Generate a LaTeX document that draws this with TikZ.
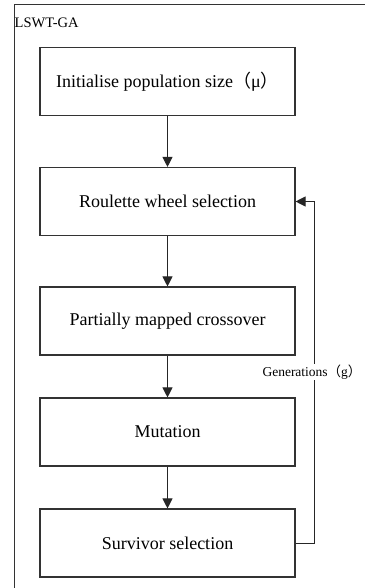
\documentclass[tikz,border=0pt]{standalone}
\usepackage{fontspec}
\setmainfont{Liberation Serif}
\newfontfamily\cjk{Noto Sans CJK SC}
\newcommand{\lpar}{{\cjk （}}
\newcommand{\rpar}{{\cjk ）}}
\usetikzlibrary{arrows.meta}
\begin{document}
\begin{tikzpicture}[x=1pt,y=-1pt,
  stepbox/.style={draw=black!80, line width=1.1pt, minimum width=255pt, minimum height=68pt, inner sep=0pt, font=\fontsize{18}{20}\selectfont},
  flow/.style={draw=black!85, line width=1pt, -{Triangle[length=10pt,width=10pt]}},
  frameline/.style={draw=black!80, line width=1pt}]
\useasboundingbox (0,0) rectangle (365,588);
\draw[frameline] (14,588) -- (14,5) -- (365,5);
\node[anchor=base west, inner sep=0pt, font=\fontsize{14.5}{16}\selectfont] (title) at (14.5,28) {LSWT-GA};
\node[stepbox] (b1) at (167.5,81.5) {Initialise population size\lpar μ\rpar};
\node[stepbox] (b2) at (167.5,201.5) {Roulette wheel selection};
\node[stepbox] (b3) at (167.5,321) {Partially mapped crossover};
\node[stepbox] (b4) at (167.5,432) {Mutation};
\node[stepbox] (b5) at (167.5,543) {Survivor selection};
\draw[flow] (b1) -- (b2);
\draw[flow] (b2) -- (b3);
\draw[flow] (b3) -- (b4);
\draw[flow] (b4) -- (b5);
\coordinate (c1) at (314,543);
\coordinate (c2) at (314,201.5);
\draw[flow] (b5.east) -- (c1) -- (c2) -- (b2.east);
\node[fill=white, inner sep=1pt, font=\fontsize{13.5}{16}\selectfont] (gen) at (312,372) {Generations\lpar g\rpar};
\end{tikzpicture}
\end{document}
